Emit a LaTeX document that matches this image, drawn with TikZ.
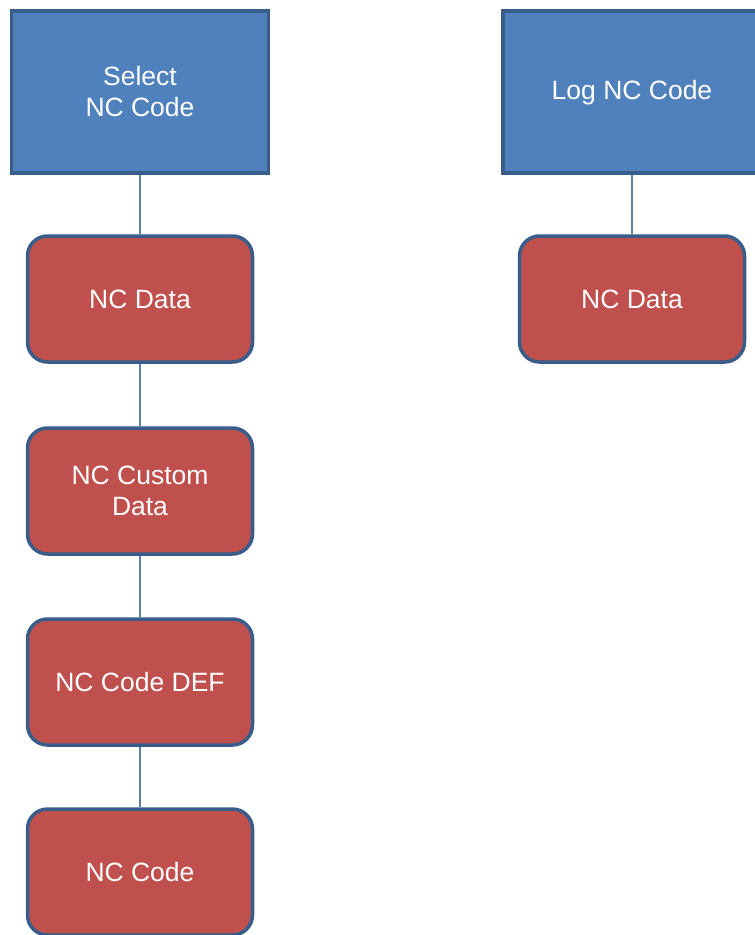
\documentclass[tikz,border=0pt]{standalone}
\usepackage{fontspec}
\setmainfont{Liberation Sans}
\definecolor{bluefill}{HTML}{4F81BD}
\definecolor{redfill}{HTML}{C0504D}
\definecolor{edgeblue}{HTML}{385D8A}
\definecolor{linkblue}{HTML}{5A7FA8}
\begin{document}
\begin{tikzpicture}[x=1pt,y=-1pt,
  boxtext/.style={text=white,font=\fontsize{26.5}{31}\selectfont,align=center},
  topbox/.style={boxtext,draw=edgeblue,line width=3.5pt,fill=bluefill,minimum width=257pt,minimum height=162pt,inner sep=0pt},
  databox/.style={boxtext,draw=edgeblue,line width=3.5pt,fill=redfill,rounded corners=20pt,minimum width=225pt,minimum height=126pt,inner sep=0pt},
  link/.style={draw=linkblue,line width=1.6pt}]
\useasboundingbox (0,0) rectangle (755,935);
\node[topbox] (sel) at (140,92) {Select\\NC Code};
\node[topbox,minimum width=262pt] (log) at (634,92) {};
\node[boxtext] (logt) at (632,93) {Log NC Code};
\node[databox] (d1) at (140,299) {NC Data};
\node[databox] (d2) at (140,491) {NC Custom\\Data};
\node[databox] (d3) at (140,682) {NC Code DEF};
\node[databox] (d4) at (140,872) {NC Code};
\node[databox] (r1) at (632,299) {NC Data};
\draw[link] (sel.south) -- (d1.north);
\draw[link] (d1.south) -- (d2.north);
\draw[link] (d2.south) -- (d3.north);
\draw[link] (d3.south) -- (d4.north);
\draw[link] (log.south -| r1.north) -- (r1.north);
\end{tikzpicture}
\end{document}
